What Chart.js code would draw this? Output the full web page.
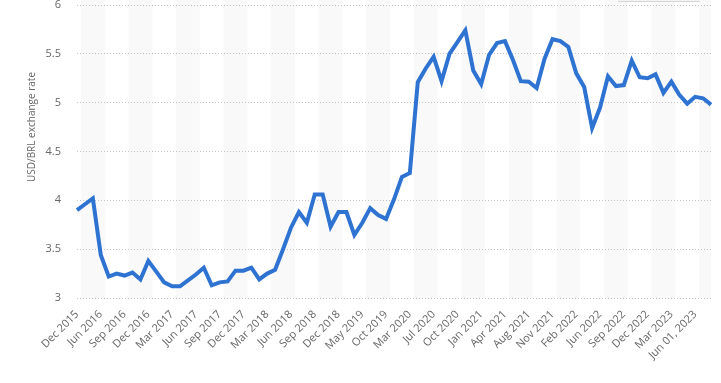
<!DOCTYPE html>
<html><head><meta charset="utf-8">
<script src="https://cdn.jsdelivr.net/npm/chart.js@4/dist/chart.umd.min.js"></script>
<style>html,body{margin:0;padding:0;background:#fff;}#wrap{width:721px;height:383px;position:relative;}</style>
</head><body><div id="wrap"><canvas id="c"></canvas></div>
<script>
const tickLabels = ["Dec 2015","Jun 2016","Sep 2016","Dec 2016","Mar 2017","Jun 2017","Sep 2017","Dec 2017","Mar 2018","Jun 2018","Sep 2018","Dec 2018","May 2019","Oct 2019","Mar 2020","Jul 2020","Oct 2020","Jan 2021","Apr 2021","Aug 2021","Nov 2021","Feb 2022","Jun 2022","Sep 2022","Dec 2022","Mar 2023","Jun 01, 2023"];
const rates = [3.90,3.96,4.02,3.44,3.22,3.25,3.23,3.26,3.19,3.38,3.27,3.16,3.12,3.12,3.18,3.24,3.31,3.13,3.16,3.17,3.28,3.28,3.31,3.19,3.25,3.29,3.50,3.72,3.88,3.77,4.06,4.06,3.73,3.88,3.88,3.645,3.77,3.92,3.85,3.81,4.01,4.24,4.28,5.21,5.35,5.47,5.22,5.50,5.62,5.74,5.33,5.19,5.49,5.61,5.63,5.44,5.22,5.215,5.15,5.45,5.65,5.63,5.57,5.30,5.16,4.74,4.95,5.27,5.17,5.18,5.43,5.26,5.25,5.29,5.10,5.215,5.08,4.99,5.06,5.045,4.98];
const tickEvery = 3;
const categories = rates.map((_, i) => (i % tickEvery === 0 && tickLabels[i / tickEvery] !== undefined) ? tickLabels[i / tickEvery] : '');
const yTitle = "USD/BRL exchange rate";

const bandsPlugin = {
  id: 'bands',
  beforeDraw(chart) {
    const {ctx, chartArea, scales: {x}} = chart;
    ctx.save();
    ctx.fillStyle = '#f9f9f9';
    for (let k = 0; k < tickLabels.length; k += 2) {
      const a = x.getPixelForValue(k * tickEvery + 0.5);
      const b = Math.min(x.getPixelForValue((k + 1) * tickEvery + 0.5), chartArea.right);
      if (a < chartArea.right) ctx.fillRect(a, 0, b - a, chartArea.bottom);
    }
    ctx.fillStyle = '#f3f3f3';
    ctx.fillRect(618, 0, 82, 2);
    ctx.fillStyle = '#d5d5d5';
    ctx.fillRect(618, 1, 82, 1);
    ctx.restore();
  },
  afterDraw(chart) {
    const {ctx} = chart;
    ctx.save();
    ctx.translate(32, 127);
    ctx.rotate(-Math.PI / 2);
    ctx.fillStyle = '#666';
    ctx.font = '10px "Open Sans"';
    ctx.textAlign = 'center';
    ctx.textBaseline = 'middle';
    ctx.fillText(yTitle, 0, 0);
    ctx.restore();
  }
};

new Chart(document.getElementById('c'), {
  type: 'line',
  data: { labels: categories, datasets: [{ data: rates, borderColor: '#2e73d2', borderWidth: 4, pointRadius: 0, tension: 0, fill: false }] },
  options: {
    responsive: true, maintainAspectRatio: false, animation: false,
    layout: { padding: { left: 0, right: 10, top: 5, bottom: 0 } },
    plugins: { legend: { display: false }, tooltip: { enabled: false } },
    scales: {
      x: {
        grid: { display: false }, border: { display: false },
        ticks: { autoSkip: false, maxRotation: 45, minRotation: 45, color: '#666', padding: 2, font: { family: 'Open Sans', size: 11 } },
        afterFit: s => { s.height = 85; s.paddingLeft = 0; s.paddingRight = 0; s.paddingTop = 0; s.paddingBottom = 0; }
      },
      y: {
        min: 3, max: 6,
        ticks: { stepSize: 0.5, color: '#666', padding: 16, font: { family: 'Open Sans', size: 11 }, callback: v => String(Number(v)) },
        grid: { color: '#c4c4c4', drawTicks: false, lineWidth: 1 },
        border: { display: false, dash: [1, 2] },
        afterFit: s => { s.width = 77; s.paddingTop = 0; s.paddingBottom = 0; s.paddingLeft = 0; s.paddingRight = 0; }
      }
    }
  },
  plugins: [bandsPlugin]
});
</script></body></html>
